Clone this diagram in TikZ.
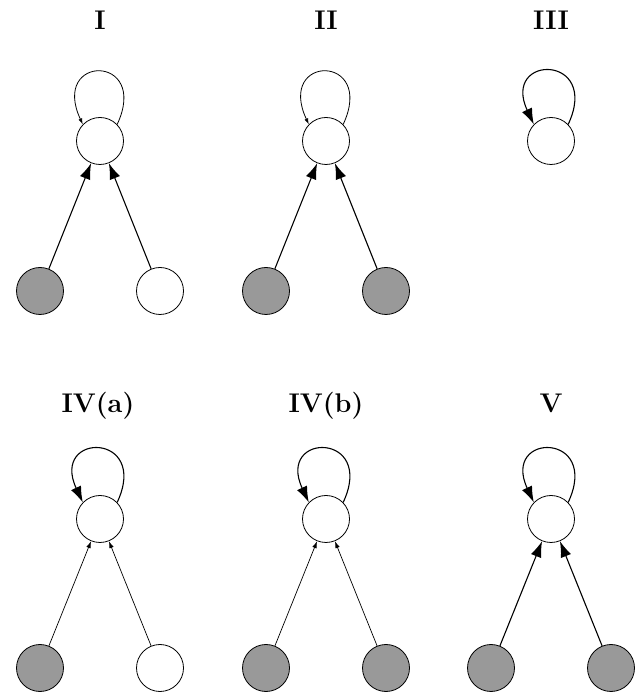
\documentclass[tikz,border=0pt]{standalone}
\usepackage{fontspec}
\usetikzlibrary{arrows.meta}
\definecolor{shade}{RGB}{153,153,153}
\begin{document}
\begin{tikzpicture}[x=1pt,y=1pt,
  vertex/.style={circle,draw,line width=0.8pt,minimum size=47pt,inner sep=0pt},
  obs/.style={vertex,fill=shade},
  hid/.style={vertex,fill=white},
  title/.style={font=\fontsize{27}{32}\selectfont\bfseries,anchor=base},
  bigarrow/.style={-{Latex[length=16pt,width=11pt]},line width=1.1pt},
  thinarrow/.style={-{Latex[length=7pt,width=4.5pt]},line width=0.7pt},
  bigloop/.style={-{Latex[length=16pt,width=11pt]},line width=1.1pt},
  thinloop/.style={-{Latex[length=6pt,width=4pt]},line width=0.8pt},
  % self-loop drawn above a vertex
  selfloop/.style={to path={(\tikztostart.44) .. controls +(65:78) and +(115:78) .. (\tikztostart.136)}}
]
\useasboundingbox (0,0) rectangle (640,695);

% top row
\node[title] (tI) at (100,665) {I};
\node[title] (tII) at (326,665) {II};
\node[title] (tIII) at (551,665) {III};

\node[hid] (a1) at (100,554) {};
\node[obs] (a2) at (40,404) {};
\node[hid] (a3) at (160,404) {};
\draw[thinloop] (a1) to[selfloop] (a1);
\draw[bigarrow] (a2) -- (a1);
\draw[bigarrow] (a3) -- (a1);

\node[hid] (b1) at (326,554) {};
\node[obs] (b2) at (266,404) {};
\node[obs] (b3) at (386,404) {};
\draw[thinloop] (b1) to[selfloop] (b1);
\draw[bigarrow] (b2) -- (b1);
\draw[bigarrow] (b3) -- (b1);

\node[hid] (c1) at (551,554) {};
\draw[bigloop] (c1) to[selfloop] (c1);

% bottom row
\node[title] (tIVa) at (98,282) {IV(a)};
\node[title] (tIVb) at (326,282) {IV(b)};
\node[title] (tV) at (551,282) {V};

\node[hid] (d1) at (100,176) {};
\node[obs] (d2) at (40,27) {};
\node[hid] (d3) at (160,27) {};
\draw[bigloop] (d1) to[selfloop] (d1);
\draw[thinarrow] (d2) -- (d1);
\draw[thinarrow] (d3) -- (d1);

\node[hid] (e1) at (326,176) {};
\node[obs] (e2) at (266,27) {};
\node[obs] (e3) at (386,27) {};
\draw[bigloop] (e1) to[selfloop] (e1);
\draw[thinarrow] (e2) -- (e1);
\draw[thinarrow] (e3) -- (e1);

\node[hid] (f1) at (551,176) {};
\node[obs] (f2) at (491,27) {};
\node[obs] (f3) at (611,27) {};
\draw[bigloop] (f1) to[selfloop] (f1);
\draw[bigarrow] (f2) -- (f1);
\draw[bigarrow] (f3) -- (f1);
\end{tikzpicture}
\end{document}
